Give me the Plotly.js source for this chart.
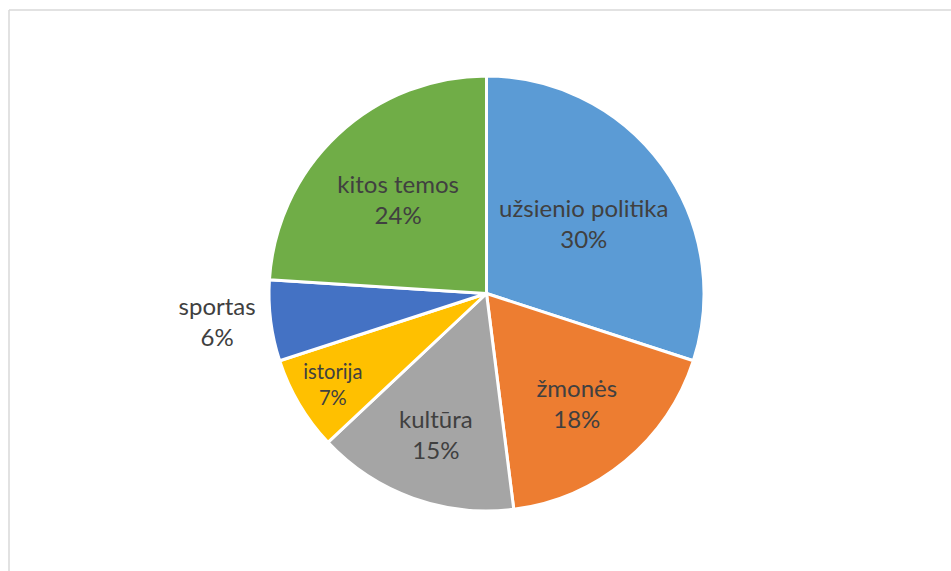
<!DOCTYPE html>
<html>
<head>
<meta charset="utf-8">
<script src="https://cdn.plot.ly/plotly-3.0.1.min.js"></script>
<style>
  html, body { margin: 0; padding: 0; background: #ffffff; }
  #chart { width: 951px; height: 571px; }
</style>
</head>
<body>
<div id="chart"></div>
<script>
// topics, clockwise from 12 o'clock
const topics = ["užsienio politika", "žmonės", "kultūra", "istorija", "sportas", "kitos temos"];
const shares = [30, 18, 15, 7, 6, 24];
const slice_colors = ["#5B9BD5", "#ED7D31", "#A5A5A5", "#FFC000", "#4472C4", "#70AD47"];
const text_places = ["inside", "inside", "inside", "inside", "outside", "inside"];

const W = 951, H = 571;

const data = [
  {
    type: "pie",
    labels: topics,
    values: shares,
    sort: false,
    direction: "clockwise",
    rotation: 0,
    marker: { colors: slice_colors, line: { color: "#ffffff", width: 3 } },
    texttemplate: "%{label}<br>%{percent:.0%}",
    textposition: text_places,
    insidetextorientation: "horizontal",
    textfont: { family: "Lato, 'Open Sans', sans-serif", size: 24, color: "#404040" },
    hoverinfo: "none",
    domain: { x: [269 / W, 704 / W], y: [1 - 511 / H, 1 - 76 / H] },
  },
];

const layout = {
  width: W,
  height: H,
  margin: { l: 0, r: 0, t: 0, b: 0 },
  showlegend: false,
  paper_bgcolor: "#ffffff",
  shapes: [
    // chart frame, cut off at right and bottom
    { type: "line", xref: "paper", yref: "paper", x0: 9 / W, x1: 9 / W, y0: 1 - 10 / H, y1: 0,
      line: { color: "#d9d9d9", width: 1.5 } },
    { type: "line", xref: "paper", yref: "paper", x0: 9 / W, x1: 1, y0: 1 - 10 / H, y1: 1 - 10 / H,
      line: { color: "#d9d9d9", width: 1.5 } },
  ],
};

Plotly.newPlot("chart", data, layout, { displayModeBar: false, staticPlot: true });
</script>
</body>
</html>
